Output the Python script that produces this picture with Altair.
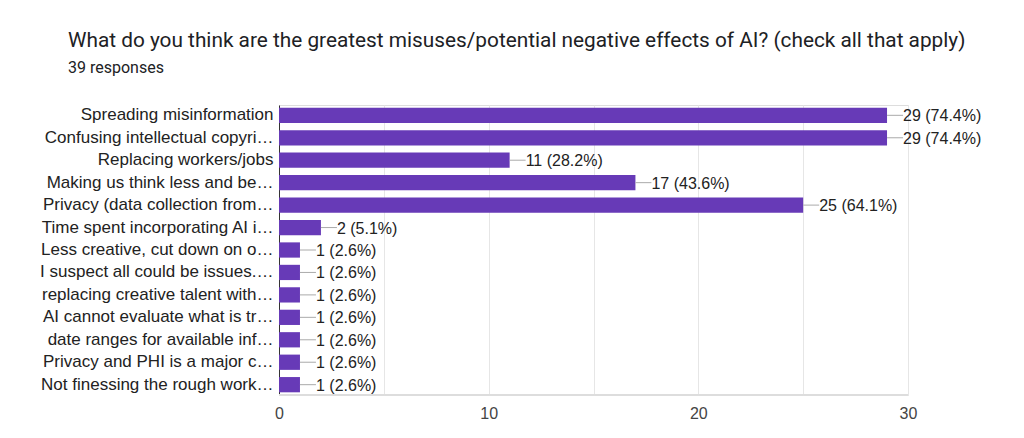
import altair as alt
import pandas as pd

categories = [
    "Spreading misinformation",
    "Confusing intellectual copyri…",
    "Replacing workers/jobs",
    "Making us think less and be…",
    "Privacy (data collection from…",
    "Time spent incorporating AI i…",
    "Less creative, cut down on o…",
    "I suspect all could be issues.…",
    "replacing creative talent with…",
    "AI cannot evaluate what is tr…",
    " date ranges for available inf…",
    "Privacy and PHI is a major c…",
    "Not finessing the rough work…",
]
counts = [29, 29, 11, 17, 25, 2, 1, 1, 1, 1, 1, 1, 1]
labels = ["29 (74.4%)", "29 (74.4%)", "11 (28.2%)", "17 (43.6%)", "25 (64.1%)",
          "2 (5.1%)", "1 (2.6%)", "1 (2.6%)", "1 (2.6%)", "1 (2.6%)", "1 (2.6%)",
          "1 (2.6%)", "1 (2.6%)"]
tick_values = [0, 5, 10, 15, 20, 25, 30]

df = pd.DataFrame({"cat": categories, "n": counts, "lab": labels})

LABEL_FONT = "Liberation Sans"

y = alt.Y("cat:N", sort=None, title=None,
          scale=alt.Scale(paddingInner=0.32, paddingOuter=0.12),
          axis=alt.Axis(labelFont=LABEL_FONT, labelFontSize=17, labelColor="#222222",
                        labelLimit=400, ticks=False, labelPadding=6,
                        domainColor="#333333", domainWidth=1))
x = alt.X("n:Q", title=None, scale=alt.Scale(domain=[0, 30], nice=False),
          axis=alt.Axis(values=tick_values,
                        labelExpr="datum.value % 10 == 0 ? datum.label : ''",
                        labelFont=LABEL_FONT, labelFontSize=16, labelColor="#444444",
                        labelPadding=10, labelFlush=False, ticks=False, domain=False,
                        grid=True, gridColor="#e6e6e6"))

bars = alt.Chart(df).mark_bar(color="#673ab7").encode(x=x, y=y)
conn = alt.Chart(df).mark_rule(color="#aaaaaa", x2Offset=16).encode(
    x="n:Q", x2="n:Q", y=alt.Y("cat:N", sort=None))
txt = alt.Chart(df).mark_text(align="left", baseline="middle", dx=16, dy=1,
                              font=LABEL_FONT, fontSize=16, color="#222222").encode(
    x="n:Q", y=alt.Y("cat:N", sort=None), text="lab:N")
bottom = alt.Chart(df).mark_rule(color="#dddddd").encode(
    x=alt.value(0), x2=alt.value(629), y=alt.value(290))

chart = alt.layer(bars, conn, txt, bottom).properties(
    width=629, height=290,
    autosize=alt.AutoSizeParams(type="none"),
    padding={"left": 271, "top": 97, "right": 100, "bottom": 40},
    title=alt.TitleParams(
        text="What do you think are the greatest misuses/potential negative effects of AI? (check all that apply)",
        subtitle="39 responses",
        anchor="start", frame="group", dx=-211, offset=28,
        font="Roboto", fontSize=20.8, fontWeight="normal", color="#202124",
        subtitleFont="Roboto", subtitleFontSize=16, subtitleColor="#202124",
        subtitlePadding=8),
).configure_view(stroke=None).configure(background="white")

chart.save("out.html", embed_options={"renderer": "svg", "actions": False})
